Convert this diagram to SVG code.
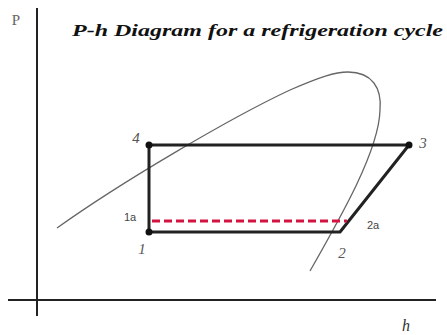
<svg xmlns="http://www.w3.org/2000/svg" width="447" height="335" viewBox="0 0 447 335">
<style>
.ax{stroke:#222;stroke-width:2;fill:none}
.cyc{stroke:#222;stroke-width:3;fill:none;stroke-linejoin:round}
.dash{stroke:#d41340;stroke-width:3;fill:none;stroke-dasharray:8,4}
.dome{stroke:#666;stroke-width:1.3;fill:none}
.lbl{font-family:'Liberation Serif','Times New Roman',serif;font-style:italic;font-size:15px;fill:#555;text-anchor:middle}
.sl{font-family:'Liberation Sans',Arial,sans-serif;font-size:11px;fill:#444;text-anchor:middle}
.dot{fill:#111}
.ser{font-family:'Liberation Serif','Times New Roman',serif}
</style>
<rect width="447" height="335" fill="#fff"/>
<g id="axes">
<line class="ax" x1="37" y1="8" x2="37" y2="316"/>
<line class="ax" x1="8" y1="300" x2="436" y2="300"/>
<text class="ser" x="16" y="25" font-size="15" fill="#666" text-anchor="middle">P</text>
<text class="ser" x="406" y="331" font-style="italic" font-size="16" fill="#333" text-anchor="middle">h</text>
</g>
<text id="title" class="ser" x="72" y="36" font-style="italic" font-weight="bold" font-size="17" fill="#111" textLength="371" lengthAdjust="spacingAndGlyphs">P-h Diagram for a refrigeration cycle</text>
<g id="dome">
<path class="dome" d="M57,228 C120,183 230,118 290,90 C320,77 335,72 348,72 C372,72 382,88 380,110 C379,150 342,215 310,271"/>
</g>
<g id="connectors">
<path class="cyc" d="M149,145 L409,145 L340,232 L149,232 Z" />
<line class="dash" x1="152" y1="221" x2="347" y2="221"/>
</g>
<g id="n4"><circle class="dot" cx="149" cy="145" r="3.5"/><text class="lbl" x="136" y="143">4</text></g>
<g id="n3"><circle class="dot" cx="409" cy="145" r="3.5"/><text class="lbl" x="423" y="148">3</text></g>
<g id="n1"><circle class="dot" cx="149" cy="232" r="3.5"/><text class="lbl" x="142" y="254">1</text></g>
<g id="n2"><text class="lbl" x="342" y="258">2</text></g>
<g id="n1a"><text class="sl" x="130" y="221">1a</text></g>
<g id="n2a"><text class="sl" x="373" y="229">2a</text></g>
</svg>
